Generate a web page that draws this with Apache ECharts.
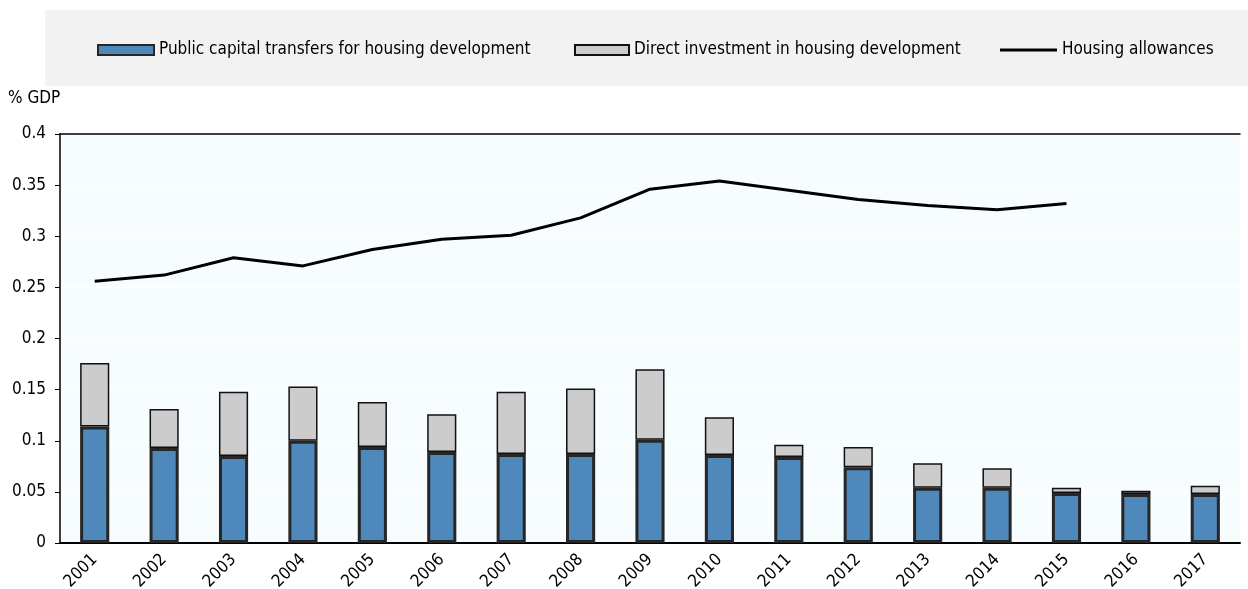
<!DOCTYPE html>
<html>
<head>
<meta charset="utf-8">
<script src="https://cdn.jsdelivr.net/npm/echarts@6/dist/echarts.min.js"></script>
<style>
html,body{margin:0;padding:0;background:#fff;}
#chart{width:1248px;height:589px;}
</style>
</head>
<body>
<div id="chart"></div>
<script>
var years = ['2001','2002','2003','2004','2005','2006','2007','2008','2009','2010','2011','2012','2013','2014','2015','2016','2017'];
var capitalTransfers = [0.114,0.093,0.085,0.100,0.094,0.089,0.087,0.087,0.101,0.086,0.084,0.074,0.054,0.054,0.049,0.048,0.048];
var directInvestment = [0.062,0.038,0.063,0.053,0.044,0.037,0.061,0.064,0.069,0.037,0.012,0.020,0.024,0.019,0.005,0.003,0.008];
var allowances = [0.256,0.262,0.279,0.271,0.287,0.297,0.301,0.318,0.346,0.354,0.345,0.336,0.330,0.326,0.332,null,null];
var yTicks = [0,0.05,0.1,0.15,0.2,0.25,0.3,0.35,0.4];

var FONT = '"Liberation Sans Narrow","Arial Narrow","DejaVu Sans Condensed",sans-serif';
var chart = echarts.init(document.getElementById('chart'));

var legendText = {fontFamily:FONT,fontSize:17,color:'#000',lineHeight:18};

var option = {
	animation:false,
	textStyle:{fontFamily:FONT,color:'#000'},
	title:{
		text:'% GDP',left:8,top:90,padding:0,
		textStyle:{fontFamily:FONT,fontSize:17,fontWeight:'normal',color:'#000'}
	},
	graphic:[{
		type:'rect',z:-10,
		shape:{x:45,y:10,width:1203,height:76},
		style:{fill:'#f2f2f2'}
	}],
	legend:[{
		left:97,top:41,padding:0,itemWidth:56,itemHeight:10,
		textStyle:legendText,
		data:[{name:'Public capital transfers for housing development',icon:'rect'}]
	},{
		left:574,top:41,padding:0,itemWidth:54,itemHeight:10,
		textStyle:legendText,
		data:[{name:'Direct investment in housing development',icon:'rect'}]
	},{
		left:1000,top:41,padding:0,itemWidth:57,itemHeight:3,
		textStyle:legendText,
		data:[{name:'Housing allowances',icon:'rect'}]
	}],
	grid:{left:60,right:8,top:134,bottom:46,outerBoundsMode:'none',containLabel:false,
		show:true,backgroundColor:'#f7fdff',borderWidth:0},
	xAxis:[{
		type:'category',
		data:years,
		axisLine:{lineStyle:{color:'#000',width:2}},
		axisTick:{inside:true,length:5,lineStyle:{color:'#000',width:1.5}},
		axisLabel:{rotate:45,fontFamily:FONT,fontSize:17,color:'#000',margin:14}
	},{
		type:'category',
		position:'top',
		data:years,
		axisLine:{lineStyle:{color:'#000',width:1.5}},
		axisTick:{show:false},
		axisLabel:{show:false}
	}],
	yAxis:{
		type:'value',
		min:0,max:0.4,interval:0.05,
		axisLine:{show:true,lineStyle:{color:'#000',width:1.5}},
		axisTick:{show:true,length:5,lineStyle:{color:'#000'}},
		axisLabel:{fontFamily:FONT,fontSize:17,color:'#000',margin:14,
			formatter:function(v){
				for(var i=0;i<yTicks.length;i++){
					if(Math.abs(yTicks[i]-v)<1e-9){return String(yTicks[i]);}
				}
				return '';
			}},
		splitLine:{show:true,lineStyle:{color:'#ffffff',width:1}}
	},
	series:[{
		name:'Public capital transfers for housing development',
		type:'bar',
		stack:'inv',
		barWidth:'42%',
		itemStyle:{color:'#4f88bb',borderColor:'#262626',borderWidth:3},
		data:capitalTransfers
	},{
		name:'Direct investment in housing development',
		type:'bar',
		stack:'inv',
		itemStyle:{color:'#cccccc',borderColor:'#111111',borderWidth:1.5},
		data:directInvestment
	},{
		name:'Housing allowances',
		type:'line',
		symbol:'none',
		color:'#000',
		lineStyle:{color:'#000',width:3},
		itemStyle:{color:'#000'},
		data:allowances
	}]
};
chart.setOption(option);
</script>
</body>
</html>
